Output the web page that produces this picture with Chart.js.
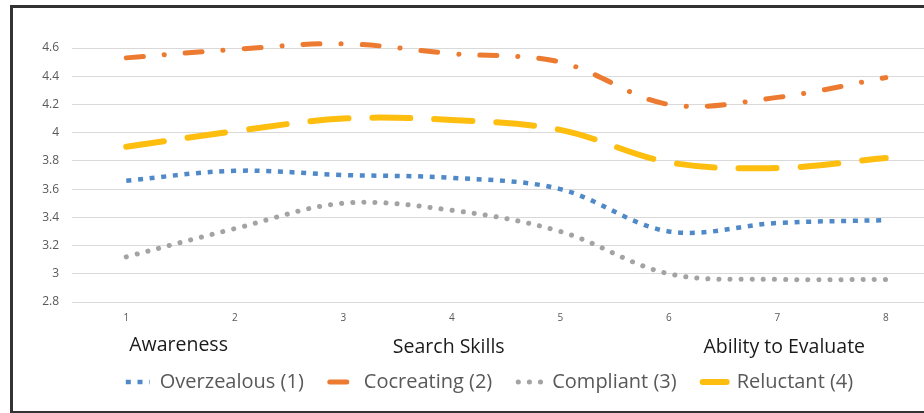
<!DOCTYPE html>
<html>
<head>
<meta charset="utf-8">
<script src="https://cdn.jsdelivr.net/npm/chart.js@4"></script>
<style>
    html, body { margin: 0; padding: 0; background: #fff; }
    #stage { position: relative; width: 924px; height: 413px; overflow: hidden; background: #fff; }
    #frame {
        position: absolute; left: 10px; top: 5px; width: 940px; height: 403px;
        border: 3px solid #333; border-right: none; box-sizing: content-box;
    }
    #wrap { position: absolute; left: 0; top: 0; width: 940px; height: 413px; }
</style>
</head>
<body>
<div id="stage">
    <div id="frame"></div>
    <div id="wrap"><canvas id="chart"></canvas></div>
</div>
<script>
// --- Data ---
const categories = ['1', '2', '3', '4', '5', '6', '7', '8'];
const overzealous = [3.66, 3.73, 3.70, 3.68, 3.60, 3.30, 3.36, 3.38];
const cocreating  = [4.53, 4.59, 4.63, 4.56, 4.50, 4.20, 4.25, 4.39];
const compliant   = [3.12, 3.32, 3.50, 3.45, 3.30, 3.00, 2.96, 2.96];
const reluctant   = [3.90, 4.01, 4.10, 4.09, 4.02, 3.79, 3.75, 3.82];
const yTicks = [2.8, 3, 3.2, 3.4, 3.6, 3.8, 4, 4.2, 4.4, 4.6];
const groupLabels = ['Awareness', 'Search Skills', 'Ability to Evaluate'];
const groupAnchors = [0, 3, 6]; // category index each label sits under

// --- Group labels under the axis ---
const groupLabelPlugin = {
    id: 'groupLabels',
    afterDraw(chart) {
        const { ctx, scales: { x }, chartArea } = chart;
        ctx.save();
        ctx.font = '19.5px "Open Sans", sans-serif';
        ctx.fillStyle = '#1a1a1a';
        ctx.textBaseline = 'alphabetic';
        groupLabels.forEach((text, i) => {
            const px = x.getPixelForValue(groupAnchors[i]);
            if (i === 0) {
                ctx.textAlign = 'left';
                ctx.fillText(text, px + 3, chartArea.bottom + 49);
            } else {
                ctx.textAlign = 'center';
                ctx.fillText(text, px + (i === 1 ? -3 : 7), chartArea.bottom + 51);
            }
        });
        ctx.restore();
    }
};

// legend markers should copy the dataset's dash, not the point style
const legendLabels = (chart) => {
    const items = Chart.defaults.plugins.legend.labels.generateLabels(chart);
    items.forEach((item, i) => {
        const ds = chart.data.datasets[i];
        item.pointStyle = 'line';
        item.lineDash = ds.borderDash;
        item.lineCap = ds.borderCapStyle;
        item.lineWidth = ds.borderWidth;
        item.strokeStyle = ds.borderColor;
        item.fontColor = '#595959';
    });
    return items;
};

const ctx = document.getElementById('chart').getContext('2d');
new Chart(ctx, {
    type: 'line',
    data: {
        labels: categories,
        datasets: [
            {
                label: 'Overzealous (1)',
                data: overzealous,
                borderColor: '#4f89c8',
                backgroundColor: '#4f89c8',
                borderWidth: 4.5,
                borderDash: [5, 6.7],
                borderCapStyle: 'butt'
            },
            {
                label: 'Cocreating (2)',
                data: cocreating,
                borderColor: '#ec7a30',
                backgroundColor: '#ec7a30',
                borderWidth: 5,
                borderDash: [17, 21, 0.1, 21],
                borderCapStyle: 'round'
            },
            {
                label: 'Compliant (3)',
                data: compliant,
                borderColor: '#a3a3a3',
                backgroundColor: '#a3a3a3',
                borderWidth: 5,
                borderDash: [0.1, 11],
                borderCapStyle: 'round'
            },
            {
                label: 'Reluctant (4)',
                data: reluctant,
                borderColor: '#fdbe10',
                backgroundColor: '#fdbe10',
                borderWidth: 6,
                borderDash: [38, 24],
                borderCapStyle: 'round'
            }
        ]
    },
    options: {
        responsive: true,
        maintainAspectRatio: false,
        animation: false,
        layout: { padding: { top: 48, right: 0, bottom: 11, left: 39 } },
        elements: {
            point: { radius: 0, hoverRadius: 0 },
            line: { tension: 0.35, fill: false }
        },
        datasets: { line: { clip: false } },
        scales: {
            x: {
                offset: true,
                grid: { display: false, drawTicks: false },
                border: { display: false },
                ticks: {
                    color: '#595959',
                    font: { family: '"Open Sans", sans-serif', size: 10 },
                    padding: 10,
                    maxRotation: 0
                },
                afterFit(scale) { scale.height = 44; }
            },
            y: {
                min: 2.8,
                max: 4.6,
                grid: { color: '#d9d9d9', lineWidth: 1, drawTicks: false },
                border: { display: false },
                afterBuildTicks(scale) { scale.ticks = yTicks.map(v => ({ value: v })); },
                ticks: {
                    color: '#595959',
                    font: { family: '"Open Sans", sans-serif', size: 12 },
                    padding: 13,
                    callback: v => String(Math.round(v * 10) / 10)
                },
                afterFit(scale) { scale.width = 33; }
            }
        },
        plugins: {
            legend: {
                position: 'bottom',
                labels: {
                    usePointStyle: true,
                    pointStyle: 'line',
                    pointStyleWidth: 24,
                    padding: 26,
                    color: '#595959',
                    font: { family: '"Open Sans", sans-serif', size: 20 },
                    generateLabels: legendLabels
                }
            },
            tooltip: { enabled: false }
        }
    },
    plugins: [groupLabelPlugin]
});
</script>
</body>
</html>
